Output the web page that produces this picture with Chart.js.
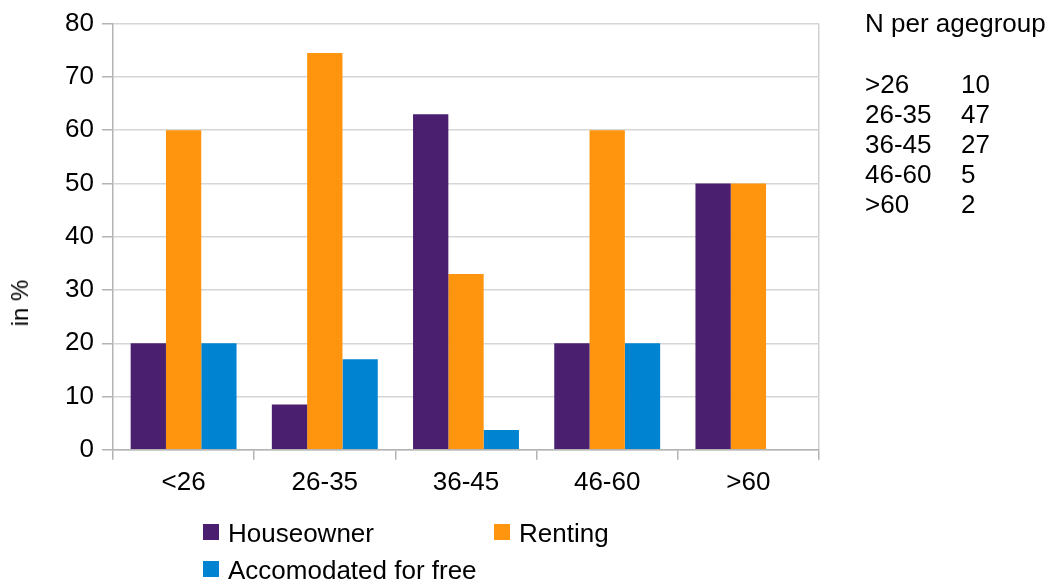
<!DOCTYPE html>
<html>
<head>
<meta charset="utf-8">
<script src="https://cdn.jsdelivr.net/npm/chart.js@4.4.0/dist/chart.umd.min.js"></script>
<style>
  body { margin: 0; background: #fff; }
  #wrap { position: relative; width: 1061px; height: 582px; font-family: "Liberation Sans", Arial, sans-serif; color: #000; }
  #chart { position: absolute; left: 0; top: 0; }
  .txt { position: absolute; font-size: 26px; line-height: 30px; white-space: nowrap; }
  #ytitle { position: absolute; left: 20px; top: 303px; font-size: 24px; line-height: 24px; white-space: nowrap;
            transform: translate(-50%, -50%) rotate(-90deg); }
  .box { position: absolute; width: 16px; height: 16px; }
</style>
</head>
<body>
<div id="wrap">
  <canvas id="chart" width="1061" height="582"></canvas>
  <div id="ytitle">in %</div>
  <div id="legend"></div>
  <div id="table"></div>
</div>
<script>
// categories and values (percent per age group)
var ageGroups = ['<26', '26-35', '36-45', '46-60', '>60'];
var houseowner = [20, 8.5, 63, 20, 50];
var renting = [60, 74.5, 33, 60, 50];
var accomodated = [20, 17, 3.7, 20, 0];

// y axis range
var yMin = 0, yMax = 80, yStep = 10;

// the N table on the right (labels as written in the original)
var tableTitle = 'N per agegroup';
var tableGroups = ['>26', '26-35', '36-45', '46-60', '>60'];
var tableN = [10, 47, 27, 5, 2];

var font = { family: '"Liberation Sans", Arial, sans-serif', size: 26 };

var ctx = document.getElementById('chart').getContext('2d');
var chart = new Chart(ctx, {
    type: 'bar',
    data: {
        labels: ageGroups,
        datasets: [
            { label: 'Houseowner', data: houseowner, backgroundColor: '#4b1f6f' },
            { label: 'Renting', data: renting, backgroundColor: '#ff950e' },
            { label: 'Accomodated for free', data: accomodated, backgroundColor: '#0084d1' }
        ]
    },
    options: {
        responsive: false,
        animation: false,
        categoryPercentage: 0.75,
        barPercentage: 1.0,
        layout: { padding: { top: 21, right: 242, bottom: 77, left: 0 } },
        plugins: { legend: { display: false }, tooltip: { enabled: false } },
        scales: {
            x: {
                offset: true,
                grid: {
                    offset: true,
                    drawOnChartArea: true,
                    tickLength: 10,
                    tickColor: '#b3b3b3',
                    // only the right border of the plot is drawn as a full line
                    color: function (c) { return c.type === 'scale' ? '#d0d0d0' : 'rgba(0,0,0,0)'; },
                    lineWidth: 1.5
                },
                border: { color: '#b3b3b3', width: 1.5 },
                ticks: { color: '#000', font: font, padding: 7 }
            },
            y: {
                min: yMin,
                max: yMax,
                ticks: { stepSize: yStep, color: '#000', font: font, padding: 8 },
                grid: { color: '#d6d6d6', tickColor: '#b3b3b3', tickLength: 11, lineWidth: 1.5 },
                border: { color: '#b3b3b3', width: 1.5 },
                afterFit: function (s) { s.width = 113; }
            }
        }
    }
});

// legend, laid out in two columns like the original
var legend = document.getElementById('legend');
var legendPos = [[203, 524], [494, 524], [203, 561]];
chart.data.datasets.forEach(function (ds, i) {
    var b = document.createElement('div');
    b.className = 'box';
    b.style.left = legendPos[i][0] + 'px';
    b.style.top = legendPos[i][1] + 'px';
    b.style.background = ds.backgroundColor;
    legend.appendChild(b);
    var t = document.createElement('div');
    t.className = 'txt';
    t.textContent = ds.label;
    t.style.left = (legendPos[i][0] + 25) + 'px';
    t.style.top = (legendPos[i][1] - 6) + 'px';
    legend.appendChild(t);
});

// N per age group text block
var table = document.getElementById('table');
var title = document.createElement('div');
title.className = 'txt';
title.textContent = tableTitle;
title.style.left = '865px';
title.style.top = '8px';
table.appendChild(title);
tableGroups.forEach(function (g, i) {
    var a = document.createElement('div');
    a.className = 'txt';
    a.textContent = g;
    a.style.left = '865px';
    a.style.top = (69 + i * 30) + 'px';
    table.appendChild(a);
    var n = document.createElement('div');
    n.className = 'txt';
    n.textContent = tableN[i];
    n.style.left = '961px';
    n.style.top = (69 + i * 30) + 'px';
    table.appendChild(n);
});
</script>
</body>
</html>
